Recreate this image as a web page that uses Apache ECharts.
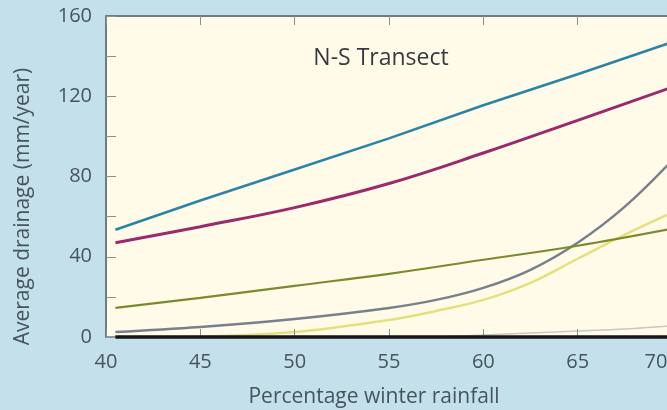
<!DOCTYPE html>
<html>
<head>
<meta charset="utf-8">
<script src="https://cdn.jsdelivr.net/npm/echarts@6/dist/echarts.min.js"></script>
<style>
  html, body { margin: 0; padding: 0; background: #c4e0eb; }
  #chart { width: 667px; height: 410px; }
</style>
</head>
<body>
<div id="chart"></div>
<script>
// Percentage of rainfall falling in winter (x) and the sample points of each curve
const pctCoarse = [40.5, 45, 50, 55, 60, 65, 70];
const pctFine = [40.5, 45, 50, 55, 57.5, 60, 62.5, 65, 67.5, 70];

// Average drainage, mm/year
const drainBlue = [53.5, 68, 83.5, 99, 115.5, 131, 147];
const drainMagenta = [47, 55, 64.5, 76.5, 91.7, 108, 124.5];
const drainOlive = [14.5, 19.5, 25.5, 31.5, 38.5, 45.5, 54];
const drainGrey = [2.5, 5, 9, 14.5, 18.5, 24.5, 33.5, 47, 65, 88];
const drainYellow = [0, 0.3, 2.5, 8.5, 13, 18.5, 27, 39, 51, 62];
const drainPale = [null, null, null, null, 0, 1, 2, 3, 4, 5.5];
const drainBase = [0, 0, 0, 0, 0, 0, 0];

// Axis ticks
const xTicks = [40, 45, 50, 55, 60, 65, 70];
const yTicks = [0, 40, 80, 120, 160];

const FONT = "'Open Sans', 'Noto Sans', sans-serif";
const LABEL = '#46545d';
const FRAME = '#6f7b82';
const TICK = '#8a9094';

function pairs(xs, ys) {
  return xs.map((x, i) => [x, ys[i]]);
}

function curve(name, xs, ys, color, width, smooth) {
  return {
    name: name,
    type: 'line',
    xAxisIndex: 0,
    yAxisIndex: 0,
    data: pairs(xs, ys),
    showSymbol: false,
    symbol: 'none',
    smooth: smooth,
    lineStyle: { color: color, width: width },
    silent: true,
    animation: false,
    z: 3
  };
}

const chart = echarts.init(document.getElementById('chart'), null, { renderer: 'canvas' });

const xMin = xTicks[0], xMax = xTicks[xTicks.length - 1];
const yMin = yTicks[0], yMax = yTicks[yTicks.length - 1];

chart.setOption({
  backgroundColor: '#c4e0eb',
  animation: false,
  grid: {
    left: 106, right: -5, top: 16, bottom: 73,
    containLabel: false,
    outerBoundsMode: 'none',
    show: true, backgroundColor: '#fffbe8', borderWidth: 0, z: 0
  },
  graphic: [{
    type: 'text',
    x: 381, y: 58,
    style: {
      text: 'N-S Transect',
      align: 'center', verticalAlign: 'middle',
      font: '500 23px ' + FONT,
      fill: '#353b3f'
    },
    z: 10
  }],
  xAxis: [{
    type: 'value',
    position: 'bottom',
    z: 5,
    min: xMin, max: xMax, interval: 5,
    name: 'Percentage winter rainfall',
    nameLocation: 'middle',
    nameGap: 50,
    nameTextStyle: { fontFamily: FONT, fontSize: 21, color: LABEL, padding: [0, 30, 0, 0] },
    axisLine: { show: true, onZero: false, lineStyle: { color: FRAME, width: 1.5 } },
    axisTick: { show: true, inside: true, length: 8, lineStyle: { color: TICK, width: 1 } },
    splitLine: { show: false },
    axisLabel: {
      margin: 15,
      fontFamily: FONT, fontSize: 20, color: LABEL,
      formatter: function (v) {
        if (xTicks.indexOf(v) < 0) return '';
        return v === xMax ? '{r|' + v + '}' : String(v);
      },
      rich: { r: { fontFamily: FONT, fontSize: 20, color: LABEL, padding: [0, 32, 0, 0] } }
    }
  }, {
    type: 'value',
    position: 'top',
    z: 5,
    min: xMin, max: xMax, interval: 5,
    axisLine: { show: true, onZero: false, lineStyle: { color: FRAME, width: 2 } },
    axisTick: { show: true, inside: true, length: 9, lineStyle: { color: TICK, width: 1 } },
    axisLabel: { show: false },
    splitLine: { show: false }
  }],
  yAxis: [{
    type: 'value',
    z: 5,
    min: yMin, max: yMax, interval: 20,
    name: 'Average drainage (mm/year)',
    nameLocation: 'middle',
    nameRotate: 90,
    nameGap: 72,
    nameTextStyle: { fontFamily: FONT, fontSize: 21, color: LABEL, padding: [0, 60, 0, 0] },
    axisLine: { show: true, onZero: false, lineStyle: { color: FRAME, width: 2 } },
    axisTick: { show: true, inside: true, length: 10, lineStyle: { color: TICK, width: 1 } },
    splitLine: { show: false },
    axisLabel: {
      margin: 14,
      fontFamily: FONT, fontSize: 20, color: LABEL,
      formatter: function (v) { return yTicks.indexOf(v) >= 0 ? String(v) : ''; }
    }
  }],
  series: [
    curve('pale', pctFine, drainPale, '#c9c8bc', 1.5, 0.4),
    curve('yellow', pctFine, drainYellow, '#e6e07c', 2.5, 0.4),
    curve('grey', pctFine, drainGrey, '#77808b', 2.5, 0.4),
    curve('olive', pctCoarse, drainOlive, '#7b8a2f', 2.2, 0.4),
    curve('magenta', pctCoarse, drainMagenta, '#9b2a6c', 3, 0.4),
    curve('blue', pctCoarse, drainBlue, '#2b84a8', 2.6, false),
    Object.assign(curve('base', pctCoarse, drainBase, '#161616', 3.5, false), { clip: false, z: 8 })
  ]
});
</script>
</body>
</html>
